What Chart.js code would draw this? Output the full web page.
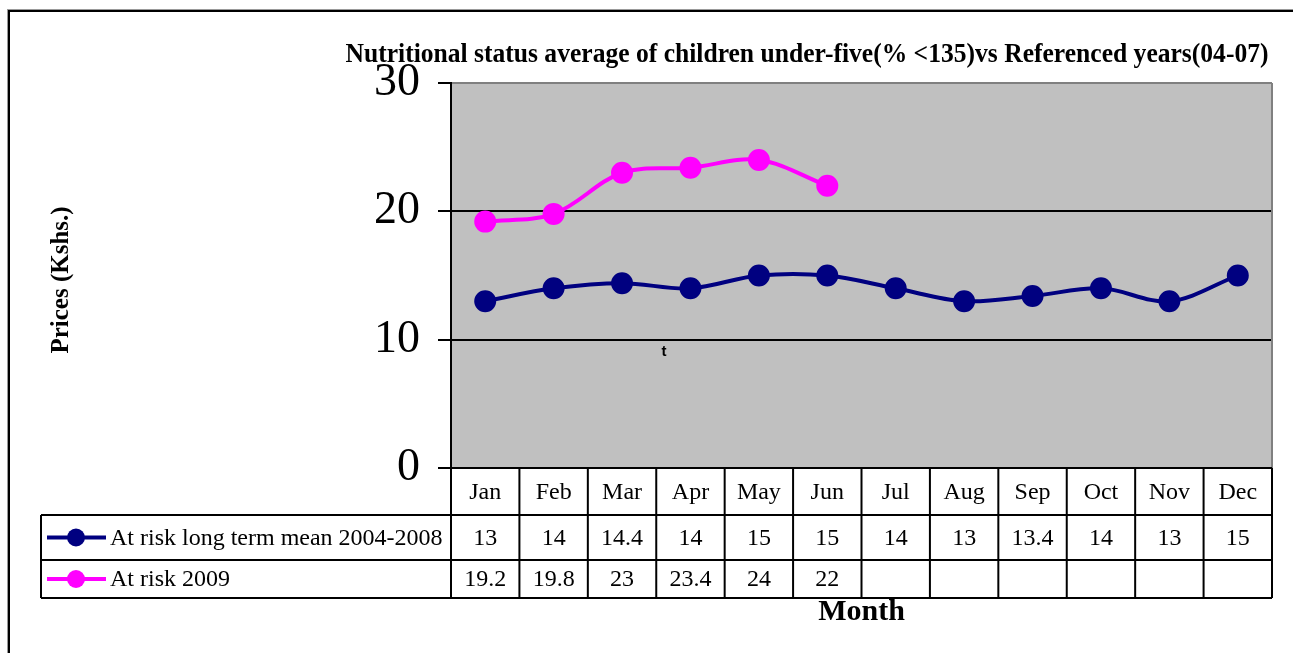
<!DOCTYPE html>
<html>
<head>
<meta charset="utf-8">
<script src="https://cdn.jsdelivr.net/npm/chart.js@4/dist/chart.umd.min.js"></script>
<style>
  body { margin: 0; background: #fff; }
  canvas { display: block; }
</style>
</head>
<body>
<canvas id="chart" width="1293" height="653"></canvas>
<script>
// data
const months = ['Jan', 'Feb', 'Mar', 'Apr', 'May', 'Jun', 'Jul', 'Aug', 'Sep', 'Oct', 'Nov', 'Dec'];
const longTermMean = [13, 14, 14.4, 14, 15, 15, 14, 13, 13.4, 14, 13, 15];
const risk2009 = [19.2, 19.8, 23, 23.4, 24, 22, null, null, null, null, null, null];
const seriesNames = ['At risk long term mean 2004-2008', 'At risk 2009'];
const seriesColors = ['#000080', '#FF00FF'];
const yTicks = [0, 10, 20, 30];

const titleText = 'Nutritional status average of children under-five(% <135)vs Referenced years(04-07)';
const serif = '"Liberation Serif", "Times New Roman", serif';

let ctx = document.getElementById('chart').getContext('2d');

const tablePlugin = {
  id: 'tablePlugin',
  beforeDraw(chart) {
    const c = chart.ctx, a = chart.chartArea;
    c.save();
    c.fillStyle = '#fff';
    c.fillRect(0, 0, chart.width, chart.height);
    c.fillStyle = '#C0C0C0';
    c.fillRect(a.left, a.top, a.right - a.left, a.bottom - a.top);
    // outer frame
    c.strokeStyle = '#999';
    c.lineWidth = 1;
    c.strokeRect(7.5, 9.5, 1400, 800);
    c.strokeStyle = '#000';
    c.lineWidth = 2;
    c.strokeRect(9, 11, 1400, 800);
    c.restore();
  },
  afterDraw(chart) {
    const c = chart.ctx, a = chart.chartArea, x = chart.scales.x;
    const colW = (a.right - a.left) / months.length;
    c.save();
    // right border of plot
    c.strokeStyle = '#808080';
    c.lineWidth = 2;
    c.beginPath();
    c.moveTo(a.right, a.top);
    c.lineTo(a.right, a.bottom);
    c.stroke();

    // title
    c.fillStyle = '#000';
    c.font = 'bold 27px ' + serif;
    c.textAlign = 'center';
    c.textBaseline = 'middle';
    let w = c.measureText(titleText).width;
    c.save();
    c.translate(807, 55);
    c.scale(923 / w, 1);
    c.fillText(titleText, 0, 0);
    c.restore();

    // y axis title
    c.save();
    c.translate(62, 280);
    c.rotate(-Math.PI / 2);
    c.font = 'bold 25px ' + serif;
    c.fillText('Prices (Kshs.)', 0, 0);
    c.restore();

    // stray label
    c.font = 'bold 15px "Liberation Sans", Arial, sans-serif';
    c.fillText('t', 664, 352);

    // data table
    const rows = [a.bottom, 515, 560, 598];
    const leftX = 41;
    c.strokeStyle = '#000';
    c.lineWidth = 2;
    c.beginPath();
    c.moveTo(a.left, rows[0]); c.lineTo(a.right, rows[0]);
    for (let r = 1; r < rows.length; r++) {
      c.moveTo(leftX, rows[r]); c.lineTo(a.right, rows[r]);
    }
    c.moveTo(leftX, rows[1]); c.lineTo(leftX, rows[3]);
    for (let i = 0; i <= months.length; i++) {
      const px = i < months.length ? x.getPixelForValue(i) - colW / 2 : a.right;
      c.moveTo(px, rows[0]); c.lineTo(px, rows[3]);
    }
    c.stroke();

    c.font = '24px ' + serif;
    c.textAlign = 'center';
    const seriesData = [longTermMean, risk2009];
    months.forEach((m, i) => {
      const cx = x.getPixelForValue(i);
      c.fillText(m, cx, (rows[0] + rows[1]) / 2 + 1);
      seriesData.forEach((d, s) => {
        if (d[i] !== null) c.fillText(String(d[i]), cx, (rows[s + 1] + rows[s + 2]) / 2 + 1);
      });
    });

    // legend keys
    seriesNames.forEach((name, s) => {
      const cy = (rows[s + 1] + rows[s + 2]) / 2;
      c.strokeStyle = seriesColors[s];
      c.fillStyle = seriesColors[s];
      c.lineWidth = 4;
      c.beginPath();
      c.moveTo(47, cy); c.lineTo(106, cy);
      c.stroke();
      c.beginPath();
      c.arc(76, cy, 9, 0, Math.PI * 2);
      c.fill();
      c.fillStyle = '#000';
      c.textAlign = 'left';
      c.fillText(name, 110, cy + 1);
    });

    // x axis title
    c.textAlign = 'center';
    c.font = 'bold 30px ' + serif;
    c.fillText('Month', (a.left + a.right) / 2, 612);
    c.restore();
  }
};

const myChart = new Chart(ctx, {
  type: 'line',
  data: {
    labels: months,
    datasets: [{
      label: seriesNames[0],
      data: longTermMean,
      borderColor: seriesColors[0],
      backgroundColor: seriesColors[0],
      borderWidth: 4,
      pointRadius: 9,
      pointHoverRadius: 9,
      tension: 0.35
    },
    {
      label: seriesNames[1],
      data: risk2009,
      borderColor: seriesColors[1],
      backgroundColor: seriesColors[1],
      borderWidth: 4,
      pointRadius: 9,
      pointHoverRadius: 9,
      tension: 0.35
    }]
  },
  options: {
    responsive: false,
    animation: false,
    layout: { padding: { left: 8, top: 83, right: 21, bottom: 185 } },
    scales: {
      x: { type: 'category', offset: true, display: false },
      y: {
        min: 0,
        max: 30,
        afterFit: s => { s.width = 443; },
        afterBuildTicks: s => { s.ticks = yTicks.map(v => ({ value: v })); },
        ticks: {
          color: '#000',
          padding: 18,
          font: { family: serif, size: 46 }
        },
        grid: {
          color: c => c.tick && c.tick.value === 30 ? '#808080' : '#000',
          lineWidth: 2,
          tickLength: 13,
          tickColor: '#000'
        },
        border: { color: '#000', width: 2 }
      }
    },
    plugins: {
      legend: { display: false },
      title: { display: false },
      tooltip: { enabled: false }
    }
  },
  plugins: [tablePlugin]
});
</script>
</body>
</html>
